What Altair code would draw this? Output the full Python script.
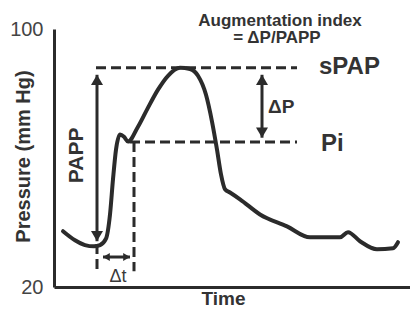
import altair as alt
import pandas as pd

# ---- data ----
time = [9, 21, 31, 40, 46, 52, 56, 59, 62, 66, 70, 74, 84, 93, 104, 114, 126, 136, 144,
        152, 158, 163, 167, 171, 176, 186, 206, 233, 256, 286, 294, 306, 323, 339, 344]
pressure = [37.3, 34.5, 33.0, 32.6, 33.0, 35.0, 42.5, 53.4, 62.6, 67.3, 66.6, 65.1, 69.7,
            75.0, 81.2, 85.5, 88.0, 87.6, 85.5, 79.6, 71.3, 62.6, 54.9, 50.3, 49.3,
            47.2, 42.5, 38.8, 35.4, 35.4, 37.0, 34.2, 31.7, 32.0, 33.9]

# dashed reference lines (sPAP, Pi)
h_names = ["sPAP", "Pi"]
h_y = [88, 65]
h_x0 = [42, 76]
h_x1 = [243, 243]

# dashed vertical lines (start of upstroke, inflection)
v_x = [43, 80]
v_y0 = [33.3, 65]
v_y1 = [24.9, 24.9]

# arrows (PAPP, dP, dt)
arrow_x0 = [43, 208, 49]
arrow_x1 = [43, 208, 76]
arrow_y0 = [85.8, 85.8, 29.3]
arrow_y1 = [34.2, 66.3, 29.3]
head_x = [43, 43, 208, 208, 49, 76]
head_y = [85.8, 34.2, 85.8, 66.3, 29.3, 29.3]
head_dir = ["up", "down", "up", "down", "left", "right"]
head_sz = [144, 144, 144, 144, 64, 64]

# labels
c_text = ["Augmentation index", "= ΔP/PAPP"]
c_x = [226, 223]
c_y = [102.5, 97.2]
l_text = ["sPAP", "Pi", "ΔP"]
l_x = [265, 267, 214]
l_y = [88.3, 64.2, 75.9]
l_size = [24, 24, 19]

ink = "#2b2b2b"
font = "Liberation Sans"

wave = pd.DataFrame({"t": time, "p": pressure})
hl = pd.DataFrame({"name": h_names, "y": h_y, "x0": h_x0, "x1": h_x1})
vl = pd.DataFrame({"x": v_x, "y0": v_y0, "y1": v_y1})
arr = pd.DataFrame({"x0": arrow_x0, "x1": arrow_x1, "y0": arrow_y0, "y1": arrow_y1})
heads = pd.DataFrame({"x": head_x, "y": head_y, "dir": head_dir, "sz": head_sz})
ctext = pd.DataFrame({"text": c_text, "x": c_x, "y": c_y})
ltext = pd.DataFrame({"text": l_text, "x": l_x, "y": l_y, "sz": l_size})

xs = alt.Scale(domain=[0, 356], nice=False, zero=False)
ys = alt.Scale(domain=[20, 100], nice=False, zero=False)

xaxis = alt.Axis(title="Time", labels=False, ticks=False, grid=False,
                 domainColor=ink, domainWidth=3, titleFontSize=19,
                 titleFontWeight="bold", titleColor="#333333", titleFont=font,
                 titleX=169, titleY=11, titleAlign="center", titleBaseline="middle")
yaxis = alt.Axis(title="Pressure (mm Hg)", values=[20, 100], ticks=False, grid=False,
                 domainColor=ink, domainWidth=3, labelFontSize=20, labelColor="#444444",
                 labelFont=font, labelPadding=11, titleFontSize=20, titleFontWeight="bold",
                 titleColor="#333333", titleFont=font, titleX=-31, titleY=127,
                 titleAlign="center", titleBaseline="middle", titleAngle=270)

curve = alt.Chart(wave).mark_line(
    interpolate="monotone", strokeWidth=4, color=ink, strokeCap="round", strokeJoin="round"
).encode(x=alt.X("t:Q", scale=xs, axis=xaxis), y=alt.Y("p:Q", scale=ys, axis=yaxis))

hdash = alt.Chart(hl).mark_rule(strokeDash=[10, 5], strokeWidth=3, color=ink).encode(
    x=alt.X("x0:Q", scale=xs), x2="x1:Q", y=alt.Y("y:Q", scale=ys))

vdash = alt.Chart(vl).mark_rule(strokeDash=[10, 5], strokeWidth=3, color=ink).encode(
    x=alt.X("x:Q", scale=xs), y=alt.Y("y0:Q", scale=ys), y2="y1:Q")

shafts = alt.Chart(arr).mark_rule(strokeWidth=3, color=ink).encode(
    x=alt.X("x0:Q", scale=xs), x2="x1:Q", y=alt.Y("y0:Q", scale=ys), y2="y1:Q")

head_shapes = {
    "up": "M0,0L-1,1.7L1,1.7Z",
    "down": "M0,0L-1,-1.7L1,-1.7Z",
    "left": "M0,0L1.7,-1L1.7,1Z",
    "right": "M0,0L-1.7,-1L-1.7,1Z",
}
arrowheads = alt.Chart(heads).mark_point(filled=True, opacity=1, color=ink, strokeWidth=0).encode(
    x=alt.X("x:Q", scale=xs), y=alt.Y("y:Q", scale=ys),
    shape=alt.Shape("dir:N", scale=alt.Scale(domain=list(head_shapes.keys()),
                                             range=list(head_shapes.values())), legend=None),
    size=alt.Size("sz:Q", scale=None))

center_labels = alt.Chart(ctext).mark_text(
    font=font, fontSize=17, fontWeight="bold", color="#333333", align="center", baseline="middle"
).encode(x=alt.X("x:Q", scale=xs), y=alt.Y("y:Q", scale=ys), text="text:N")

left_labels = alt.Chart(ltext).mark_text(
    font=font, fontWeight="bold", color="#333333", align="left", baseline="middle"
).encode(x=alt.X("x:Q", scale=xs), y=alt.Y("y:Q", scale=ys), text="text:N",
         size=alt.Size("sz:Q", scale=None))

papp_label = alt.Chart(pd.DataFrame({"text": ["PAPP"], "x": [23], "y": [60.8]})).mark_text(
    font=font, fontSize=21, fontWeight="bold", color="#333333", align="center",
    baseline="middle", angle=270
).encode(x=alt.X("x:Q", scale=xs), y=alt.Y("y:Q", scale=ys), text="text:N")

dt_label = alt.Chart(pd.DataFrame({"text": ["Δt"], "x": [64], "y": [23.1]})).mark_text(
    font=font, fontSize=18, color="#3a3a3a", align="center", baseline="middle"
).encode(x=alt.X("x:Q", scale=xs), y=alt.Y("y:Q", scale=ys), text="text:N")

chart = alt.layer(
    hdash, vdash, shafts, arrowheads, curve, center_labels, left_labels, papp_label, dt_label
).properties(
    width=356, height=258,
    autosize=alt.AutoSizeParams(type="none"),
    padding={"left": 46, "top": 21, "right": 0, "bottom": 21},
    background="white",
).configure_view(stroke=None)

chart.save("out.html", embed_options={"renderer": "svg", "actions": False})
